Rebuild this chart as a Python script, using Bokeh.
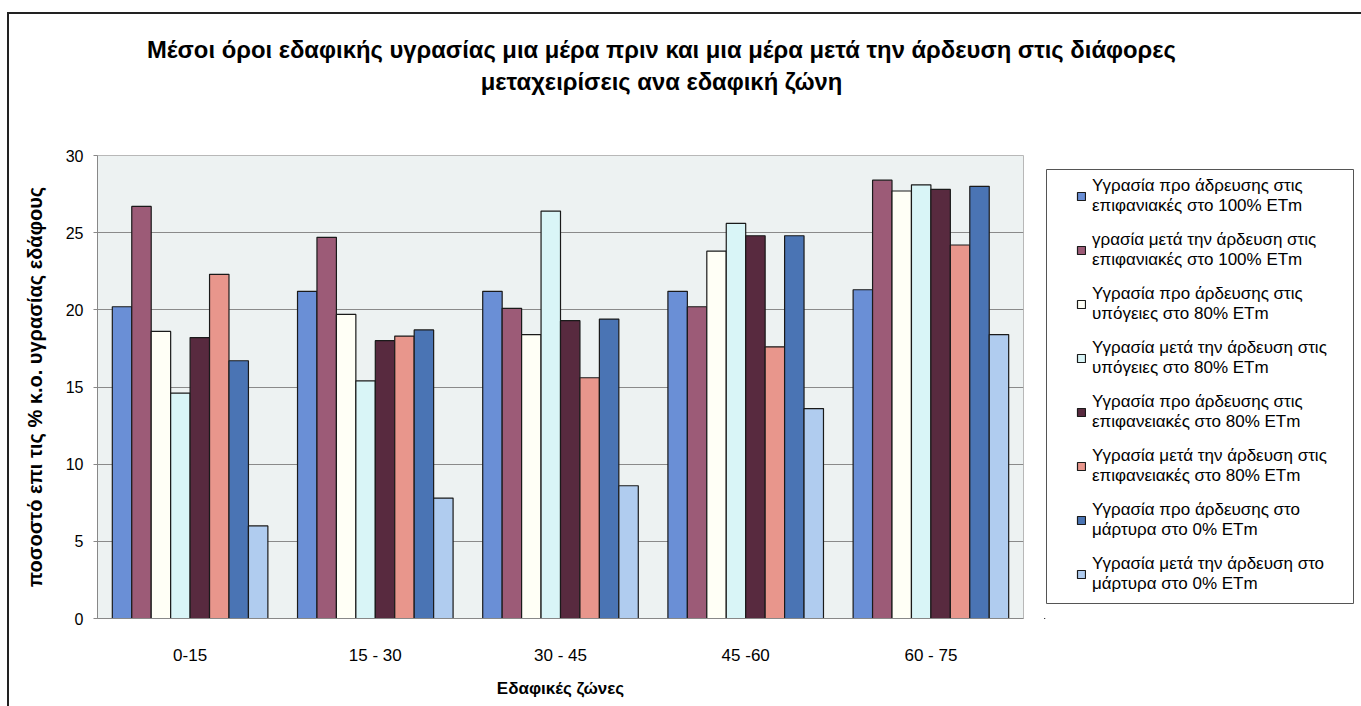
from bokeh.plotting import figure
from bokeh.models import FactorRange, Legend, LegendItem, Title, SingleIntervalTicker, BoxAnnotation
from bokeh.layouts import column, row
from bokeh.transform import dodge
from bokeh.embed import file_html
from bokeh.resources import INLINE

zones = ["0-15", "15 - 30", "30 - 45", "45 -60", "60 - 75"]

s1 = [20.2, 21.2, 21.2, 21.2, 21.3]
s2 = [26.7, 24.7, 20.1, 20.2, 28.4]
s3 = [18.6, 19.7, 18.4, 23.8, 27.7]
s4 = [14.6, 15.4, 26.4, 25.6, 28.1]
s5 = [18.2, 18.0, 19.3, 24.8, 27.8]
s6 = [22.3, 18.3, 15.6, 17.6, 24.2]
s7 = [16.7, 18.7, 19.4, 24.8, 28.0]
s8 = [6.0, 7.8, 8.6, 13.6, 18.4]

series = [s1, s2, s3, s4, s5, s6, s7, s8]
labels = [
    "Υγρασία προ άδρευσης στις\nεπιφανιακές στο 100% ETm",
    "γρασία μετά την άρδευση στις\nεπιφανιακές στο 100% ETm",
    "Υγρασία προ άρδευσης στις\nυπόγειες στο 80% ETm",
    "Υγρασία μετά την άρδευση στις\nυπόγειες στο 80% ETm",
    "Υγρασία προ άρδευσης στις\nεπιφανειακές στο 80% ETm",
    "Υγρασία μετά την άρδευση στις\nεπιφανειακές στο 80% ETm",
    "Υγρασία προ άρδευσης στο\nμάρτυρα στο 0% ETm",
    "Υγρασία μετά την άρδευση στο\nμάρτυρα στο 0% ETm",
]
colors = ["#6a8fd6", "#9c5b77", "#fffff6", "#d9f5f7", "#582a3f", "#e8968c", "#4a74b4", "#b0ccef"]

title_line1 = "Μέσοι όροι εδαφικής υγρασίας μια μέρα πριν και μια μέρα μετά την άρδευση στις διάφορες"
title_line2 = "μεταχειρίσεις ανα εδαφική ζώνη"
y_label = "ποσοστό επι τις % κ.ο. υγρασίας εδάφους"
x_label = "Εδαφικές ζώνες"

FONT = "Liberation Sans"
OX, OY = 9, 14          # where the chart box starts (after outer frame lines)
TOTAL_W = 1361 - OX
TITLE_H = 134 - OY      # title strip: y 14..134
ROW_Y = 134
MAIN_R = 1040           # main figure ends at this canvas x
FL, FR, FT, FB = 97, 1023, 155, 618   # plot frame in window pixels
LBL, LBR, LBT, LBB = 1046, 1353, 169, 603  # legend box in window pixels

# ---------- title strip ----------
tf = figure(width=TOTAL_W, height=TITLE_H, output_backend="svg", toolbar_location=None,
            x_axis_location=None, y_axis_location=None, x_range=(0, 1), y_range=(0, 1),
            min_border_left=0, min_border_right=TOTAL_W - 2 * (661 - OX),
            min_border_top=83, min_border_bottom=0)
tf.title = None
tf.grid.visible = False
tf.outline_line_color = None
tf.add_layout(Title(text=title_line2, align="center", text_font=FONT, text_font_size="23.8px",
                    text_font_style="bold", text_color="black", standoff=6), "above")
tf.add_layout(Title(text=title_line1, align="center", text_font=FONT, text_font_size="23.8px",
                    text_font_style="bold", text_color="black", standoff=0), "above")

# ---------- main chart ----------
MW, MH = MAIN_R - OX, 706 - ROW_Y
p = figure(x_range=FactorRange(*zones, range_padding=0), y_range=(0, 30),
           width=MW, height=MH, output_backend="svg", toolbar_location=None,
           min_border_left=FL - OX, min_border_right=MAIN_R - FR, min_border_top=FT - ROW_Y,
           min_border_bottom=706 - FB)
p.title = None

data = {"zone": zones}
for i, s in enumerate(series):
    data[f"s{i}"] = s

bw = 0.105
for i, s in enumerate(series):
    off = -0.42 + bw / 2 + i * bw
    p.vbar(x=dodge("zone", off, range=p.x_range), top=f"s{i}", width=bw, source=data,
           fill_color=colors[i], line_color="#1a1a1a", line_width=1.2)

p.background_fill_color = "#edf2f2"
p.border_fill_color = "white"
p.outline_line_color = "#b8b8b8"

p.xgrid.grid_line_color = None
p.ygrid.grid_line_color = "#8a8a8a"
p.ygrid.grid_line_width = 1

p.yaxis.ticker = SingleIntervalTicker(interval=5)
p.yaxis.minor_tick_line_color = None
p.yaxis.major_tick_in = 0
p.yaxis.major_tick_out = 4
p.yaxis.major_tick_line_color = "#888888"
p.yaxis.axis_line_color = "#888888"
p.yaxis.major_label_text_font = FONT
p.yaxis.major_label_text_font_size = "16px"
p.yaxis.major_label_text_color = "black"
p.yaxis.major_label_standoff = 10
p.yaxis.axis_label = y_label
p.yaxis.axis_label_text_font = FONT
p.yaxis.axis_label_text_font_size = "20px"
p.yaxis.axis_label_text_font_style = "bold"
p.yaxis.axis_label_text_color = "black"
p.yaxis.axis_label_standoff = 17

p.xaxis.major_tick_line_color = None
p.xaxis.axis_line_color = "#888888"
p.xaxis.major_label_text_font = FONT
p.xaxis.major_label_text_font_size = "17px"
p.xaxis.major_label_text_color = "black"
p.xaxis.major_label_standoff = 21
p.xaxis.axis_label = x_label
p.xaxis.axis_label_text_font = FONT
p.xaxis.axis_label_text_font_size = "17px"
p.xaxis.axis_label_text_font_style = "bold"
p.xaxis.axis_label_text_color = "black"
p.xaxis.axis_label_standoff = 11

# ---------- legend panel ----------
LW = 1361 - MAIN_R
LFL = LBL - 2
lf = figure(width=LW, height=MH, output_backend="svg", toolbar_location=None,
            x_axis_location=None, y_axis_location=None, x_range=(0, 1), y_range=(0, 1),
            min_border_left=LFL - MAIN_R, min_border_right=1361 - (LBR + 2),
            min_border_top=FT - ROW_Y, min_border_bottom=706 - FB)
lf.title = None
lf.grid.visible = False
lf.outline_line_color = None
lf.background_fill_color = "white"
lf.border_fill_color = "white"

items = []
for i in range(len(series)):
    # off-range proxy glyph, only used to draw the legend swatch
    r = lf.vbar(x=[-50], top=[-50], bottom=[-60], width=0.1, fill_color=colors[i],
                line_color="#1a1a1a", line_width=1.2)
    items.append(LegendItem(label=labels[i], renderers=[r]))

lf.add_layout(BoxAnnotation(left=LBL - MAIN_R, right=LBR - MAIN_R, top=LBT - ROW_Y, bottom=LBB - ROW_Y,
                            left_units="canvas", right_units="canvas", top_units="canvas",
                            bottom_units="canvas", fill_alpha=0, line_color="#555555",
                            line_width=1, line_alpha=1))

legend = Legend(items=items, location=(1076 - LFL, FB - 594), border_line_color=None,
                background_fill_alpha=0, padding=0, margin=0,
                label_text_font=FONT, label_text_font_size="17px",
                label_text_color="black",
                glyph_width=10, glyph_height=10, label_standoff=6, spacing=14)
lf.add_layout(legend, "center")

layout = column(tf, row(p, lf))
layout.styles = {"margin-left": "7px", "margin-top": "12px",
                 "border-left": "2px solid #222222", "border-top": "2px solid #222222"}

open("out.html", "w").write(file_html(layout, INLINE))
